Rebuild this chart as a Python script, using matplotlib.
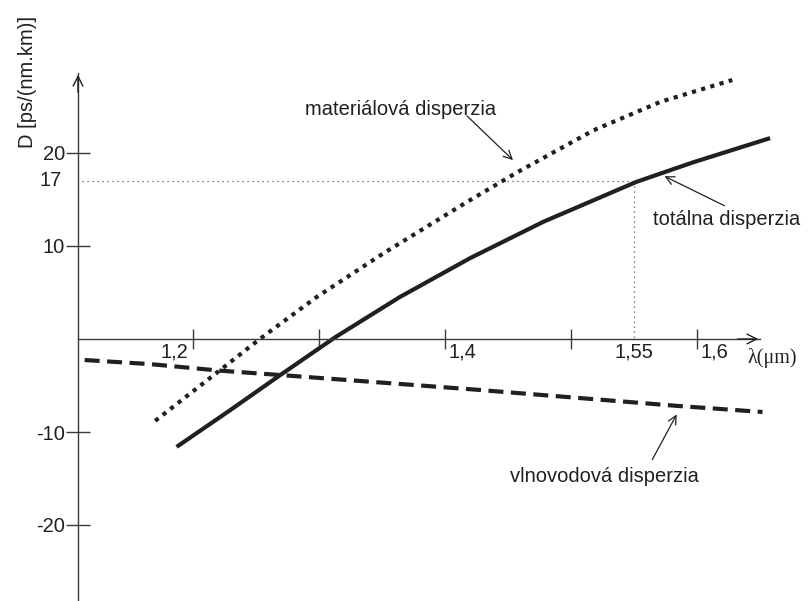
import matplotlib
matplotlib.use("Agg")
import matplotlib.pyplot as plt

plt.rcParams['font.family'] = ['Liberation Sans', 'DejaVu Sans']

# ---- data ----
total_x = [1.187, 1.229, 1.269, 1.313, 1.364, 1.420, 1.478, 1.552, 1.597, 1.658]
total_y = [-11.6, -7.7, -3.9, 0.2, 4.5, 8.7, 12.6, 16.9, 19.0, 21.6]

material_x = [1.170, 1.221, 1.253, 1.298, 1.351, 1.417, 1.457, 1.518, 1.571, 1.628]
material_y = [-8.8, -3.4, 0.0, 4.5, 9.2, 14.7, 17.9, 22.45, 25.5, 27.85]

waveguide_x = [1.114, 1.166, 1.221, 1.269, 1.420, 1.585, 1.652]
waveguide_y = [-2.26, -2.7, -3.4, -3.87, -5.4, -7.2, -7.85]

xticks = [1.2, 1.3, 1.4, 1.5, 1.6]
yticks = [20, 10, -10, -20]
ytick_labels = ['20', '10', '-10', '-20']
ref_x, ref_y = 1.55, 17

# ---- pixel <-> data helpers (layout) ----
W, H = 808, 601
def X(px):
    return 1.2 + (px - 193) / 1260.0
def Y(py):
    return (339 - py) / 9.3

fig = plt.figure(figsize=(W / 100, H / 100), dpi=100)
ax = fig.add_axes([0, 0, 1, 1])
ax.set_xlim(X(0), X(W))
ax.set_ylim(Y(H), Y(0))

ink = '#231f20'
axc = '#3a3a3a'

# axes spines through origin
for s in ['top', 'right']:
    ax.spines[s].set_visible(False)
ax.spines['bottom'].set_position(('data', 0))
ax.spines['left'].set_position(('data', X(78)))
ax.spines['bottom'].set_bounds(X(78), X(760))
ax.spines['left'].set_bounds(Y(H), Y(73))
for s in ['bottom', 'left']:
    ax.spines[s].set_color(axc)
    ax.spines[s].set_linewidth(1.0)

ax.set_xticks(xticks)
ax.set_xticklabels([''] * len(xticks))
ax.set_yticks(yticks)
ax.set_yticklabels(ytick_labels)
ax.tick_params(axis='x', direction='inout', length=15, width=1.0, color=axc)
ax.tick_params(axis='y', direction='inout', length=17, width=1.0, color=axc,
               labelsize=14.5, labelcolor=ink, pad=1)

# arrow heads on axes
ax.annotate('', xy=(X(78), Y(72)), xytext=(X(78), Y(95)),
            arrowprops=dict(arrowstyle='->,head_length=0.7,head_width=0.35', lw=1.0, color=ink))
ax.annotate('', xy=(X(761), 0), xytext=(X(735), 0),
            arrowprops=dict(arrowstyle='->,head_length=0.7,head_width=0.35', lw=1.0, color=ink))

# x tick labels (custom alignment)
fs = 14.5
ax.text(xticks[0] - 0.004, Y(352), '1,2', ha='right', va='center', fontsize=fs, color=ink)
ax.text(xticks[2] + 0.003, Y(352), '1,4', ha='left', va='center', fontsize=fs, color=ink)
ax.text(ref_x, Y(352), '1,55', ha='center', va='center', fontsize=fs, color=ink)
ax.text(xticks[4] + 0.003, Y(352), '1,6', ha='left', va='center', fontsize=fs, color=ink)
ax.text(X(747), Y(358), 'λ(μm)', ha='left', va='center', fontsize=fs,
        family=['Liberation Serif', 'DejaVu Serif'], color=ink)

# 17 label
ax.text(X(62), ref_y, '17', ha='right', va='center', fontsize=fs, color=ink)

# y label
ax.text(X(27), Y(82), 'D [ps/(nm.km)]', rotation=90, ha='center', va='center',
        fontsize=fs, color=ink)

# reference dotted lines
ax.plot([X(82), ref_x], [ref_y, ref_y], color='#555555', lw=0.9, ls=(0, (1, 3)))
ax.plot([ref_x, ref_x], [ref_y, 0], color='#555555', lw=0.9, ls=(0, (1, 3)))

# curves
ax.plot(total_x, total_y, color=ink, lw=3.0, solid_capstyle='butt', solid_joinstyle='round')
ax.plot(material_x, material_y, color=ink, lw=3.0, ls=(0, (1, 1.3)), dash_capstyle='butt')
ax.plot(waveguide_x, waveguide_y, color=ink, lw=3.0, ls=(0, (3.6, 1.8)), dash_capstyle='butt')

# annotations
arr = dict(arrowstyle='->,head_length=0.6,head_width=0.3', lw=0.9, color=ink)
ax.text(X(305), Y(110), 'materiálová disperzia', ha='left', va='center', fontsize=fs, color=ink)
ax.annotate('', xy=(X(515), Y(162)), xytext=(X(465), Y(114)), arrowprops=arr)

ax.text(X(653), Y(220), 'totálna disperzia', ha='left', va='center', fontsize=fs, color=ink)
ax.annotate('', xy=(X(662), Y(175)), xytext=(X(727), Y(207)), arrowprops=arr)

ax.text(X(510), Y(477), 'vlnovodová disperzia', ha='left', va='center', fontsize=fs, color=ink)
ax.annotate('', xy=(X(678), Y(412)), xytext=(X(651), Y(462)), arrowprops=arr)

fig.savefig('out.png', dpi=100)
